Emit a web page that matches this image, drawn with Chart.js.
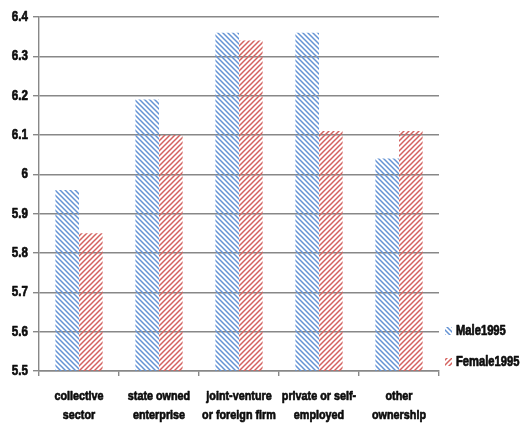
<!DOCTYPE html>
<html>
<head>
<meta charset="utf-8">
<script src="https://cdn.jsdelivr.net/npm/chart.js@4"></script>
<style>
  html, body { margin: 0; padding: 0; background: #ffffff; }
  #wrap { width: 522px; height: 428px; }
</style>
</head>
<body>
<div id="wrap"><canvas id="c" width="522" height="428"></canvas></div>
<script>
// Categories (ownership type) and average log wage per series
const categories = [
  ["collective", "sector"],
  ["state owned", "enterprise"],
  ["joint-venture", "or foreign firm"],
  ["private or self-", "employed"],
  ["other", "ownership"]
];
const seriesNames = ["Male1995", "Female1995"];
const male1995 = [5.96, 6.19, 6.36, 6.36, 6.04];
const female1995 = [5.85, 6.10, 6.34, 6.11, 6.11];
const yTicks = [5.5, 5.6, 5.7, 5.8, 5.9, 6.0, 6.1, 6.2, 6.3, 6.4];

const FONT = '"Liberation Sans", Arial, sans-serif';
const SQUEEZE = 0.8;   // horizontal compression for the narrow bold labels

// Diagonal hatch fill; dir 1 = "\" lines, dir -1 = "/" lines
function hatch(color, dir) {
  const s = 5;
  const c = document.createElement('canvas');
  c.width = s; c.height = s;
  const g = c.getContext('2d');
  g.strokeStyle = color;
  g.lineWidth = 1.5;
  g.beginPath();
  if (dir > 0) {
    g.moveTo(-1, -1); g.lineTo(s + 1, s + 1);
    g.moveTo(-1, s - 1); g.lineTo(1, s + 1);
    g.moveTo(s - 1, -1); g.lineTo(s + 1, 1);
  } else {
    g.moveTo(-1, s + 1); g.lineTo(s + 1, -1);
    g.moveTo(-1, 1); g.lineTo(1, -1);
    g.moveTo(s - 1, s + 1); g.lineTo(s + 1, s - 1);
  }
  g.stroke();
  return g.createPattern(c, 'repeat');
}

// Draw heavy text compressed horizontally around its anchor
function narrowText(g, text, x, y, align, size) {
  g.save();
  g.font = 'bold ' + size + 'px ' + FONT;
  g.fillStyle = '#0d0d0d';
  g.strokeStyle = '#0d0d0d';
  g.lineWidth = 0.7;
  g.lineJoin = 'round';
  g.textBaseline = 'middle';
  g.textAlign = align;
  g.translate(x, y);
  g.scale(SQUEEZE, 1);
  g.fillText(text, 0, 0);
  g.strokeText(text, 0, 0);
  g.restore();
}

const ctx = document.getElementById('c').getContext('2d');
const maleFill = hatch('#6493d4', 1);
const femaleFill = hatch('#d4625f', -1);

// Axis labels and the side legend, in the narrow bold style
const labelsAndLegend = {
  id: 'labelsAndLegend',
  afterDraw(chart) {
    const g = chart.ctx;
    const area = chart.chartArea;
    const xs = chart.scales.x;
    const ys = chart.scales.y;

    yTicks.forEach(v => {
      const txt = String(parseFloat(v.toFixed(1)));
      narrowText(g, txt, area.left - 11, ys.getPixelForValue(v), 'right', 14.5);
    });

    chart.data.labels.forEach((lines, i) => {
      const x = xs.getPixelForValue(i);
      lines.forEach((line, k) => {
        narrowText(g, line, x, area.bottom + 25 + k * 19, 'center', 13.5);
      });
    });

    const x0 = area.right + 6;
    const rows = [area.bottom - 40, area.bottom - 9];
    chart.data.datasets.forEach((ds, i) => {
      const y = rows[i];
      g.save();
      g.fillStyle = ds.backgroundColor;
      g.fillRect(x0, y - 4, 7, 8);
      g.restore();
      narrowText(g, ds.label, x0 + 11, y, 'left', 14);
    });
  }
};

new Chart(ctx, {
  type: 'bar',
  data: {
    labels: categories,
    datasets: [
      { label: seriesNames[0], data: male1995, backgroundColor: maleFill, borderWidth: 0 },
      { label: seriesNames[1], data: female1995, backgroundColor: femaleFill, borderWidth: 0 }
    ]
  },
  options: {
    responsive: false,
    animation: false,
    devicePixelRatio: 1,
    layout: { padding: { left: 0, right: 83, top: 17, bottom: 0 } },
    datasets: { bar: { categoryPercentage: 0.59, barPercentage: 1.0 } },
    plugins: {
      legend: { display: false },
      tooltip: { enabled: false }
    },
    scales: {
      x: {
        afterFit(scale) { scale.height = 57; },
        grid: {
          offset: true,
          drawOnChartArea: false,
          drawTicks: true,
          tickLength: 5,
          color: '#888888',
          lineWidth: 1.4
        },
        border: { display: true, color: '#888888', width: 1.4 },
        ticks: { display: false, autoSkip: false }
      },
      y: {
        min: 5.5,
        max: 6.4,
        afterFit(scale) { scale.width = 39; },
        afterBuildTicks(scale) { scale.ticks = yTicks.map(v => ({ value: v })); },
        grid: {
          color: '#888888',
          lineWidth: 1.4,
          drawTicks: true,
          tickLength: 6
        },
        border: { display: true, color: '#888888', width: 1.4 },
        ticks: { display: false }
      }
    }
  },
  plugins: [labelsAndLegend]
});
</script>
</body>
</html>
